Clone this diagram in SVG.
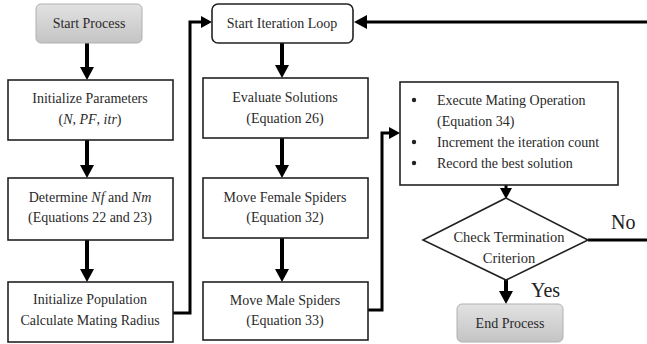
<svg xmlns="http://www.w3.org/2000/svg" width="647" height="344" viewBox="0 0 647 344">
  <defs>
    <linearGradient id="greyFill" x1="0" y1="0" x2="0" y2="1">
      <stop offset="0" stop-color="#e2e2e2"/>
      <stop offset="1" stop-color="#c4c4c4"/>
    </linearGradient>
    <marker id="head" markerUnits="userSpaceOnUse" viewBox="0 0 14 14" markerWidth="14" markerHeight="14" refX="0" refY="7" orient="auto">
      <path d="M0,0 L13,7 L0,14 z" fill="#000"/>
    </marker>
    <marker id="headSmall" markerUnits="userSpaceOnUse" viewBox="0 0 12 12" markerWidth="12" markerHeight="12" refX="0" refY="6" orient="auto">
      <path d="M0,0 L11,6 L0,12 z" fill="#000"/>
    </marker>
    <style>
      .box { fill: #fff; stroke: #222; stroke-width: 1.6; }
      .term { fill: url(#greyFill); stroke: #b0b0b0; stroke-width: 1; }
      .down { fill: none; stroke: #000; stroke-width: 4; marker-end: url(#head); }
      .elbow { fill: none; stroke: #000; stroke-width: 3; }
    </style>
  </defs>

  <!-- connectors -->
  <g id="connectors">
    <line class="down" x1="87" y1="43" x2="87" y2="67"/>
    <line class="down" x1="87" y1="140" x2="87" y2="165"/>
    <line class="down" x1="87" y1="240" x2="87" y2="269"/>
    <path class="elbow" d="M173,313 H190 V22 H201" marker-end="url(#headSmall)"/>
    <path class="elbow" d="M647,22 H367" marker-end="url(#head)"/>
    <line class="down" x1="282" y1="43" x2="282" y2="65"/>
    <line class="down" x1="282" y1="138" x2="282" y2="165"/>
    <line class="down" x1="282" y1="238" x2="282" y2="269"/>
    <path class="elbow" d="M368,310 H382 V133 H389" marker-end="url(#headSmall)"/>
    <line x1="506" y1="185" x2="506" y2="188" stroke="#000" stroke-width="3" marker-end="url(#headSmall)"/>
    <line class="down" x1="506" y1="280" x2="506" y2="291"/>
    <path class="elbow" d="M588,240 H647"/>
  </g>

  <!-- all labels share one serif face -->
  <g font-family="Liberation Serif" font-size="14" fill="#2a2a2a" text-anchor="middle">
    <g id="edge-labels" font-size="20" text-anchor="start" fill="#222">
      <text x="611" y="229">No</text>
      <text x="531" y="297">Yes</text>
    </g>

    <g id="start">
      <rect class="term" x="36" y="4" width="106" height="39" rx="5"/>
      <text x="89" y="28">Start Process</text>
    </g>

    <g id="init-params">
      <rect class="box" x="8" y="80" width="165" height="60"/>
      <text x="90" y="103">Initialize Parameters</text>
      <text x="90" y="124">(<tspan font-style="italic">N</tspan>, <tspan font-style="italic">PF</tspan>, <tspan font-style="italic">itr</tspan>)</text>
    </g>

    <g id="determine">
      <rect class="box" x="8" y="178" width="165" height="62"/>
      <text x="90" y="202">Determine <tspan font-style="italic">Nf</tspan> and <tspan font-style="italic">Nm</tspan></text>
      <text x="90" y="222">(Equations 22 and 23)</text>
    </g>

    <g id="init-pop">
      <rect class="box" x="8" y="282" width="165" height="60"/>
      <text x="90" y="304">Initialize Population</text>
      <text x="90" y="325">Calculate Mating Radius</text>
    </g>

    <g id="loop-start">
      <rect class="box" x="212" y="4" width="141" height="39" rx="6"/>
      <text x="282" y="28">Start Iteration Loop</text>
    </g>

    <g id="evaluate">
      <rect class="box" x="203" y="78" width="165" height="60"/>
      <text x="285" y="102">Evaluate Solutions</text>
      <text x="285" y="123">(Equation 26)</text>
    </g>

    <g id="move-female">
      <rect class="box" x="203" y="178" width="165" height="60"/>
      <text x="285" y="202">Move Female Spiders</text>
      <text x="285" y="222">(Equation 32)</text>
    </g>

    <g id="move-male">
      <rect class="box" x="203" y="282" width="165" height="58"/>
      <text x="285" y="305">Move Male Spiders</text>
      <text x="285" y="325">(Equation 33)</text>
    </g>

    <g id="mating" text-anchor="start">
      <rect class="box" x="400" y="82" width="218" height="103"/>
      <circle cx="414" cy="100" r="2.2" fill="#222"/>
      <circle cx="414" cy="142" r="2.2" fill="#222"/>
      <circle cx="414" cy="163" r="2.2" fill="#222"/>
      <text x="437" y="105">Execute Mating Operation</text>
      <text x="437" y="126">(Equation 34)</text>
      <text x="437" y="147">Increment the iteration count</text>
      <text x="437" y="168">Record the best solution</text>
    </g>

    <g id="check" font-size="14.5">
      <polygon points="506,198 588,240 506,280 423,240" fill="#fff" stroke="#222" stroke-width="1.6"/>
      <text x="509" y="242">Check Termination</text>
      <text x="509" y="263">Criterion</text>
    </g>

    <g id="end">
      <rect class="term" x="457" y="304" width="106" height="38" rx="5"/>
      <text x="510" y="328">End Process</text>
    </g>
  </g>
</svg>
